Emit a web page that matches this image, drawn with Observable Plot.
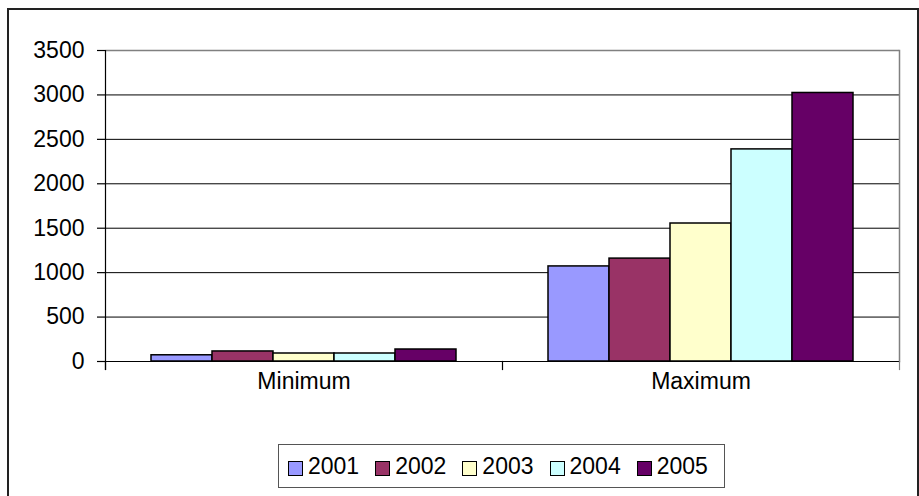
<!DOCTYPE html>
<html>
<head>
<meta charset="utf-8">
<script src="https://cdn.jsdelivr.net/npm/d3@7"></script>
<script src="https://cdn.jsdelivr.net/npm/@observablehq/plot@0.6"></script>
<style>
  html, body { margin: 0; padding: 0; background: #fff; }
  #wrap { position: relative; width: 919px; height: 496px; overflow: hidden; font-family: "Liberation Sans", Arial, sans-serif; }
  #chart { position: absolute; left: 0; top: 0; }
  #outline { position: absolute; left: 7px; top: 8px; width: 912px; height: 494px; box-sizing: border-box; border: 2px solid #222; pointer-events: none; }
  #legend { position: absolute; left: 278px; top: 444px; width: 447px; height: 44px; box-sizing: border-box; border: 1px solid #555;
            display: flex; align-items: center; justify-content: flex-start; padding-left: 9px; font-size: 23px; color: #000; }
  .item { display: flex; align-items: center; margin-right: 16px; }
  .item:last-child { margin-right: 0; }
  .sw { width: 15px; height: 15px; box-sizing: border-box; border: 1px solid #000; margin-right: 5px; margin-top: 5px; }
</style>
</head>
<body>
<div id="wrap">
  <div id="chart"></div>
  <div id="legend"></div>
  <div id="outline"></div>
</div>
<script>
// Categories, series and axis ticks
const categories = ["Minimum", "Maximum"];
const years = ["2001", "2002", "2003", "2004", "2005"];
const minimumValues = [70, 113, 90, 90, 135];
const maximumValues = [1070, 1158, 1553, 2387, 3022];
const yearColors = ["#9999FF", "#993366", "#FFFFCC", "#CCFFFF", "#660066"];
const yTicks = [0, 500, 1000, 1500, 2000, 2500, 3000, 3500];

// Long table: one row per (category, year)
const table = [];
years.forEach((year, i) => {
  table.push({category: "Minimum", year, value: minimumValues[i]});
  table.push({category: "Maximum", year, value: maximumValues[i]});
});

const chart = Plot.plot({
  width: 919,
  height: 400,
  marginLeft: 104,
  marginRight: 20,
  marginTop: 50,
  marginBottom: 39,
  style: {fontFamily: "'Liberation Sans', Arial, sans-serif", fontSize: "23px", color: "#000", background: "transparent"},
  fx: {domain: categories, padding: 0, label: null},
  x: {domain: years, paddingInner: 0, paddingOuter: 0.75, axis: null},
  y: {domain: [0, 3500], ticks: yTicks, axis: null},
  color: {domain: years, range: yearColors},
  marks: [
    // horizontal gridlines
    Plot.ruleY(yTicks.filter(d => d > 0 && d < 3500), {stroke: "#000", strokeWidth: 1}),
    Plot.ruleY([3500], {stroke: "#808080", strokeWidth: 1.5}),
    // plot area right border
    Plot.frame({anchor: "right", facetAnchor: "right", stroke: "#808080", strokeWidth: 1.5}),
    // clustered bars
    Plot.barY(table, {fx: "category", x: "year", y: "value", fill: "year", stroke: "#000", strokeWidth: 1.5}),
    // baseline
    Plot.ruleY([0], {stroke: "#000", strokeWidth: 1.2}),
    // value axis line and category separators
    Plot.frame({anchor: "left", facetAnchor: "left", stroke: "#000", strokeWidth: 1.2, insetBottom: -8}),
    Plot.frame({anchor: "left", stroke: "#000", strokeWidth: 1.2, insetTop: 311, insetBottom: -8}),
    Plot.frame({anchor: "right", facetAnchor: "right", stroke: "#808080", strokeWidth: 1.2, insetTop: 311, insetBottom: -8}),
    Plot.axisY({ticks: yTicks, tickSize: 8, tickPadding: 13, label: null, tickFormat: d => String(d), strokeWidth: 1.2}),
    Plot.axisFx({anchor: "bottom", tickSize: 0, tickPadding: 11, label: null})
  ]
});
document.getElementById("chart").appendChild(chart);

// Legend
const legend = document.getElementById("legend");
years.forEach((year, i) => {
  const item = document.createElement("div");
  item.className = "item";
  const sw = document.createElement("div");
  sw.className = "sw";
  sw.style.background = yearColors[i];
  const label = document.createElement("span");
  label.textContent = year;
  item.appendChild(sw);
  item.appendChild(label);
  legend.appendChild(item);
});
</script>
</body>
</html>
